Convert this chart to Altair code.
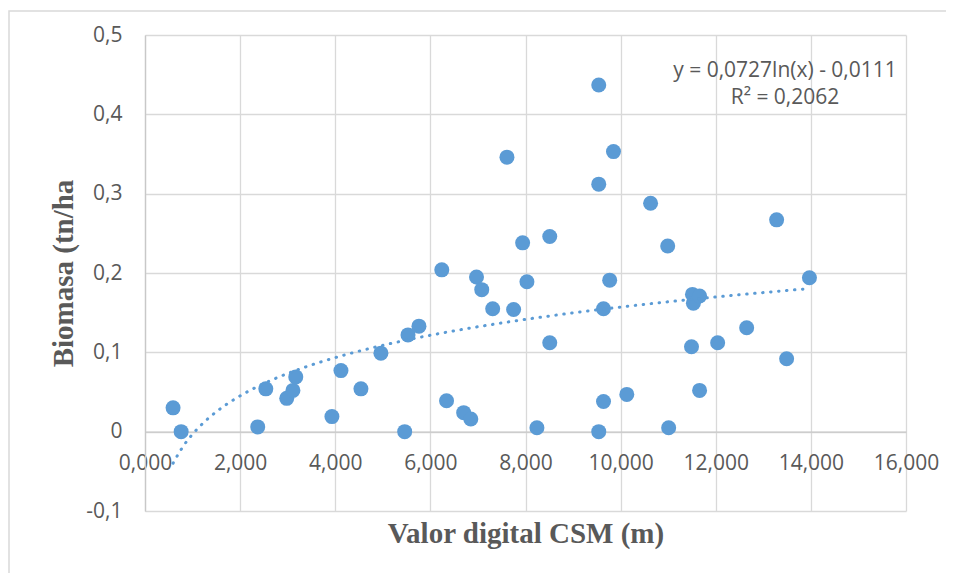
import altair as alt
import pandas as pd

# Data
csm = [0.59, 0.76, 2.37, 2.54, 2.98, 3.11, 3.17, 3.93, 4.12, 4.54, 4.96, 5.46, 5.53, 5.76,
       6.24, 6.34, 6.70, 6.85, 6.97, 7.08, 7.31, 7.61, 7.75, 7.94, 8.03, 8.24, 8.51, 8.51,
       9.54, 9.54, 9.54, 9.64, 9.64, 9.77, 9.85, 10.13, 10.63, 10.99, 11.01, 11.49, 11.51,
       11.53, 11.66, 11.66, 12.04, 12.65, 13.28, 13.49, 13.97]
biomasa = [0.030, 0.000, 0.006, 0.054, 0.042, 0.052, 0.069, 0.019, 0.077, 0.054, 0.099, 0.000,
           0.122, 0.133, 0.204, 0.039, 0.024, 0.016, 0.195, 0.179, 0.155, 0.346, 0.154, 0.238,
           0.189, 0.005, 0.246, 0.112, 0.437, 0.312, 0.000, 0.038, 0.155, 0.191, 0.353, 0.047,
           0.288, 0.234, 0.005, 0.107, 0.173, 0.162, 0.171, 0.052, 0.112, 0.131, 0.267, 0.092,
           0.194]
x_ticks = [0, 2, 4, 6, 8, 10, 12, 14, 16]
y_ticks = [-0.1, 0, 0.1, 0.2, 0.3, 0.4, 0.5]
equation_lines = ["y = 0,0727ln(x) - 0,0111", "R² = 0,2062"]
x_title = "Valor digital CSM (m)"
y_title = "Biomasa (tn/ha"

df = pd.DataFrame({"x": csm, "y": biomasa})
one = pd.DataFrame({"a": [0]})

W, H = 761, 476
GREY = "#595959"
BLUE = "#5b9bd5"
FS = 21

xscale = alt.Scale(domain=[0, 16], nice=False, zero=False)
yscale = alt.Scale(domain=[-0.1, 0.5], nice=False, zero=False)

xaxis = alt.Axis(
    values=x_ticks,
    labelExpr="replace(format(datum.value, '.3f'), '.', ',')",
    offset=-H * 0.1 / 0.6,
    title=x_title,
    titleX=W / 2, titleY=111, titleAlign="center", titleBaseline="alphabetic",
    titleFont="Liberation Serif", titleFontSize=29, titleFontWeight="bold", titleColor=GREY,
    labelFont="Open Sans", labelFontSize=FS, labelColor=GREY, labelPadding=21,
    labelOverlap=False, labelFlush=False, labelBound=False,
    ticks=False, domainColor="#c8c8c8", domainWidth=1.3,
    grid=True, gridColor="#d9d9d9", gridWidth=1.3,
)
yaxis = alt.Axis(
    values=y_ticks,
    labelExpr="replace(toString(datum.value), '.', ',')",
    title=y_title,
    titleX=-73, titleY=H / 2, titleAngle=270, titleAlign="center", titleBaseline="alphabetic",
    titleFont="Liberation Serif", titleFontSize=29, titleFontWeight="bold", titleColor=GREY,
    labelFont="Open Sans", labelFontSize=FS, labelColor=GREY, labelPadding=23,
    labelOverlap=False, labelFlush=False, labelBound=False,
    ticks=False, domainColor="#c8c8c8", domainWidth=1.3,
    grid=True, gridColor="#d9d9d9", gridWidth=1.3,
)

points = alt.Chart(df).mark_circle(size=225, color=BLUE, opacity=1).encode(
    x=alt.X("x:Q", scale=xscale, axis=xaxis),
    y=alt.Y("y:Q", scale=yscale, axis=yaxis),
)

trend = alt.Chart(df).transform_regression("x", "y", method="log").mark_line(
    color=BLUE, strokeWidth=3, strokeDash=[0.5, 7.5], strokeCap="round"
).encode(
    x=alt.X("x:Q", scale=xscale, axis=xaxis),
    y=alt.Y("y:Q", scale=yscale, axis=yaxis),
)

eq1 = alt.Chart(one).mark_text(
    font="Open Sans", fontSize=FS, color=GREY, align="center", baseline="alphabetic"
).encode(x=alt.value(640), y=alt.value(42), text=alt.value(equation_lines[0]))
eq2 = alt.Chart(one).mark_text(
    font="Open Sans", fontSize=FS, color=GREY, align="center", baseline="alphabetic"
).encode(x=alt.value(640), y=alt.value(69), text=alt.value(equation_lines[1]))

border = alt.Chart(one).mark_rect(
    fill="transparent", stroke="#d9d9d9", strokeWidth=1.5
).encode(x=alt.value(-136), x2=alt.value(830), y=alt.value(-24), y2=alt.value(570))

chart = alt.layer(border, points, trend, eq1, eq2).properties(
    width=W, height=H,
    autosize=alt.AutoSizeParams(type="none"),
    padding={"left": 137, "top": 27, "right": 40, "bottom": 62},
    background="white",
).configure_view(strokeWidth=0)

chart.save("out.html", embed_options={"renderer": "svg", "actions": False})
